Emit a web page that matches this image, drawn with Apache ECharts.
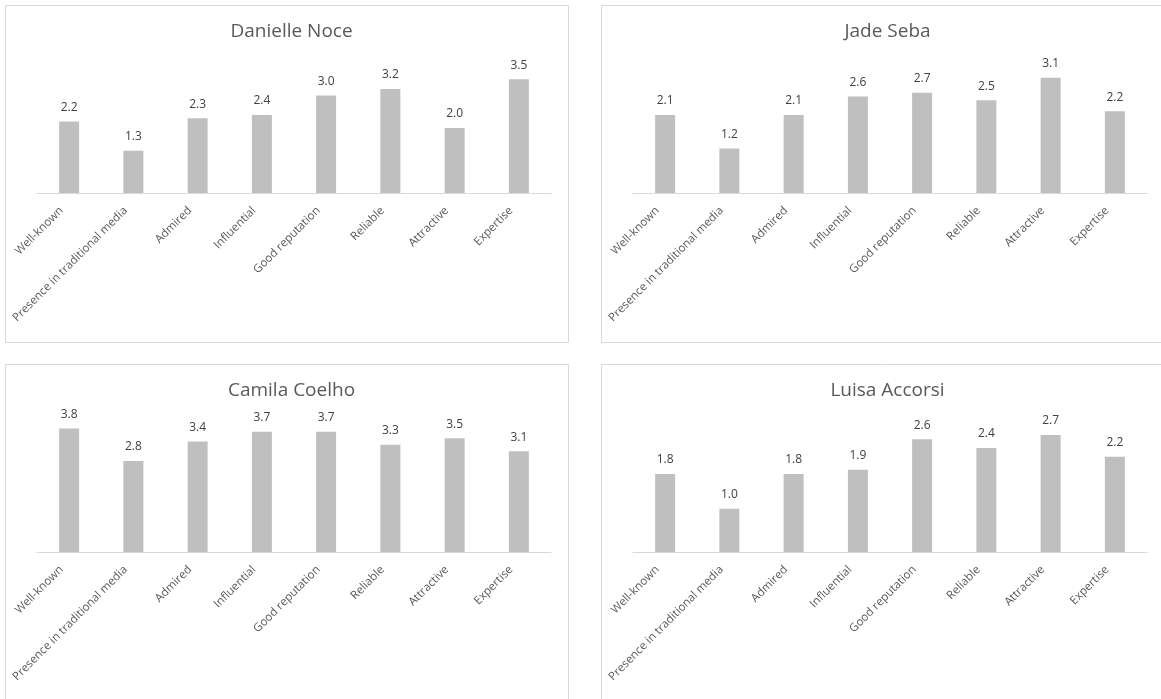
<!DOCTYPE html>
<html>
<head>
<meta charset="utf-8">
<script src="https://cdn.jsdelivr.net/npm/echarts@6/dist/echarts.min.js"></script>
<style>
  html, body { margin: 0; padding: 0; background: #ffffff; }
  #chart { width: 1161px; height: 699px; }
</style>
</head>
<body>
<div id="chart"></div>
<script>
// Attribute ratings per influencer
const attributes = ['Well-known', 'Presence in traditional media', 'Admired', 'Influential',
                    'Good reputation', 'Reliable', 'Attractive', 'Expertise'];

const names = ['Danielle Noce', 'Jade Seba', 'Camila Coelho', 'Luisa Accorsi'];

const danielleNoce = [2.2, 1.3, 2.3, 2.4, 3.0, 3.2, 2.0, 3.5];
const jadeSeba     = [2.1, 1.2, 2.1, 2.6, 2.7, 2.5, 3.1, 2.2];
const camilaCoelho = [3.8, 2.8, 3.4, 3.7, 3.7, 3.3, 3.5, 3.1];
const luisaAccorsi = [1.8, 1.0, 1.8, 1.9, 2.6, 2.4, 2.7, 2.2];

// Upper bound of each value axis
const axisMax = [4, 3.5, 4, 3];

const seriesValues = [danielleNoce, jadeSeba, camilaCoelho, luisaAccorsi];

// Panel frames (left, top) and size
const panelPos = [[5, 5], [601, 5], [5, 364], [601, 364]];
const panelW = 563, panelH = 337;

const FONT = '"Open Sans", "DejaVu Sans", sans-serif';

const chart = echarts.init(document.getElementById('chart'), null, { renderer: 'canvas' });

const grids = [], xAxes = [], yAxes = [], series = [], titles = [], graphics = [];

panelPos.forEach(([px, py], i) => {
  graphics.push({
    type: 'rect',
    left: px, top: py,
    shape: { width: panelW, height: panelH },
    style: { fill: '#ffffff', stroke: '#d9d9d9', lineWidth: 1 },
    z: -10
  });
  titles.push({
    text: names[i],
    left: px + panelW / 2,
    top: py + 12,
    textAlign: 'center',
    textStyle: { fontFamily: FONT, fontSize: 19, fontWeight: 'normal', color: '#595959' }
  });
  grids.push({ left: px + 32, top: py + 58, width: 514, height: 130 });
  xAxes.push({
    type: 'category',
    gridIndex: i,
    data: attributes,
    axisLine: { lineStyle: { color: '#d9d9d9', width: 1 } },
    axisTick: { show: false },
    axisLabel: {
      interval: 0, rotate: 45, margin: 8,
      padding: [0, 11, 0, 0],
      fontFamily: FONT, fontSize: 11.5, color: '#595959'
    }
  });
  yAxes.push({
    type: 'value', gridIndex: i, min: 0, max: axisMax[i],
    show: false, splitLine: { show: false }
  });
  series.push({
    type: 'bar',
    xAxisIndex: i, yAxisIndex: i,
    data: seriesValues[i],
    barWidth: 20,
    itemStyle: { color: '#bfbfbf' },
    label: {
      show: true, position: 'top', distance: 8,
      fontFamily: FONT, fontSize: 12, color: '#404040',
      formatter: p => p.value.toFixed(1)
    },
    silent: true,
    animation: false
  });
});

chart.setOption({
  animation: false,
  title: titles,
  grid: grids,
  xAxis: xAxes,
  yAxis: yAxes,
  series: series,
  graphic: graphics
});
</script>
</body>
</html>
